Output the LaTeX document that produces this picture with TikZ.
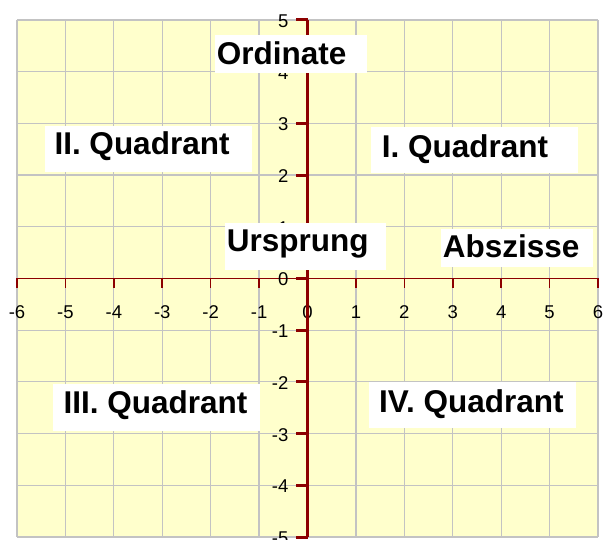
\documentclass[tikz,border=0pt]{standalone}
\usepackage{fontspec}
\setmainfont{Liberation Sans}
\definecolor{paper}{RGB}{255,255,204}
\definecolor{axisred}{RGB}{140,0,0}
\definecolor{gridgray}{RGB}{195,195,195}
\begin{document}
\begin{tikzpicture}[x=1pt,y=-1pt,
  lblbox/.style={fill=white, draw=none, inner sep=0pt, anchor=north west},
  lbltext/.style={anchor=base west, inner sep=0pt, font=\fontsize{31.5}{36}\selectfont\bfseries},
  ticklbl/.style={inner sep=0pt, font=\fontsize{18.5}{20}\selectfont},
  gridline/.style={draw=gridgray, line width=1.2pt},
  yaxis/.style={draw=axisred, line width=3pt},
  xaxis/.style={draw=axisred, line width=1.5pt}]
\useasboundingbox (0,0) rectangle (606,540);
\fill[white] (0,0) rectangle (606,540);
\fill[paper] (17,20) rectangle (598,537);
\begin{scope}[shift={(307.5pt,-278.5pt)}, x=48.417pt, y=51.7pt]
  \foreach \i in {-6,...,6} \draw[gridline] (\i,-5) -- (\i,5);
  \foreach \j in {-5,...,5} \draw[gridline] (-6,\j) -- (6,\j);
  \draw[xaxis] (-6,0) -- (6,0);
  \foreach \i in {-6,...,6} {
    \draw[xaxis] (\i,0) -- ++(0pt,-10pt);
    \node[ticklbl, anchor=base, yshift=-39.8pt] (xl\i) at (\i,0) {\i};
  }
  \draw[yaxis] (0,-5) -- (0,5);
  \foreach \j in {-5,...,5} {
    \draw[yaxis] (0,\j) -- ++(-12pt,0pt);
    \node[ticklbl, anchor=base east, xshift=-19pt, yshift=-7.5pt] (yl\j) at (0,\j) {\j};
  }
\end{scope}
\node[lblbox, minimum width=152pt, minimum height=38pt] (ordbox) at (215,35) {};
\node[lbltext] (ord) at (216.7,65) {Ordinate};
\node[lblbox, minimum width=207pt, minimum height=46pt] (q2box) at (45,126) {};
\node[lbltext] (q2) at (54.3,155) {II. Quadrant};
\node[lblbox, minimum width=207pt, minimum height=46pt] (q1box) at (371,127) {};
\node[lbltext] (q1) at (381.7,157.7) {I. Quadrant};
\node[lblbox, minimum width=161pt, minimum height=47pt] (urbox) at (225,223) {};
\node[lbltext] (ur) at (226.7,251.7) {Ursprung};
\node[lblbox, minimum width=152pt, minimum height=38pt] (abbox) at (441,229) {};
\node[lbltext] (ab) at (442.7,257.3) {Abszisse};
\node[lblbox, minimum width=207pt, minimum height=47pt] (q3box) at (53,384) {};
\node[lbltext] (q3) at (63.3,414) {III. Quadrant};
\node[lblbox, minimum width=207pt, minimum height=46pt] (q4box) at (369,382) {};
\node[lbltext] (q4) at (379,412.3) {IV. Quadrant};
\end{tikzpicture}
\end{document}
